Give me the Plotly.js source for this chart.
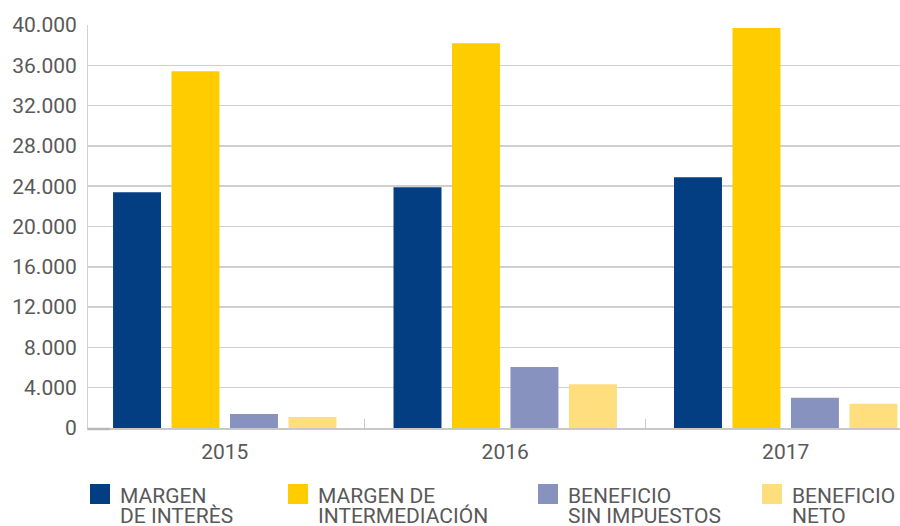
<!DOCTYPE html>
<html>
<head>
<meta charset="utf-8">
<script src="https://cdn.plot.ly/plotly-3.0.1.min.js"></script>
<style>
  html, body { margin: 0; padding: 0; background: #ffffff; }
  #chart { width: 900px; height: 526px; }
</style>
</head>
<body>
<div id="chart"></div>
<script>
// ---- Data ----
var years = ["2015", "2016", "2017"];
var seriesNames = ["MARGEN<br>DE INTERÈS", "MARGEN DE<br>INTERMEDIACIÓN", "BENEFICIO<br>SIN IMPUESTOS", "BENEFICIO<br>NETO"];
var margenInteres = [23400, 23900, 24900];
var margenIntermediacion = [35400, 38200, 39700];
var beneficioSinImpuestos = [1400, 6050, 3000];
var beneficioNeto = [1100, 4350, 2400];
var yTickVals = [0, 4000, 8000, 12000, 16000, 20000, 24000, 28000, 32000, 36000, 40000];

// ---- Styling ----
var colors = ["#043E82", "#FFCC00", "#8892BF", "#FFDE7E"];
var allValues = [margenInteres, margenIntermediacion, beneficioSinImpuestos, beneficioNeto];
var textColor = "#595959";
var fontFamily = "Roboto, 'Open Sans', sans-serif";

var traces = allValues.map(function (vals, i) {
  return {
    type: "bar",
    name: seriesNames[i].replace("<br>", " "),
    x: years,
    y: vals,
    marker: { color: colors[i], line: { width: 0 } },
    hoverinfo: "skip",
    showlegend: false
  };
});

// plot area geometry (pixels) for the hand-built legend
var W = 900, H = 526, mL = 88, mR = 0, mT = 25, mB = 98;
var pw = W - mL - mR, ph = H - mT - mB;
function px(x) { return (x - mL) / pw; }
function py(y) { return (H - mB - y) / ph; }

var legendX = [90, 288, 538, 762];
var shapes = [
  // short darker stub on the baseline at the lower-left corner
  { type: "line", xref: "paper", yref: "paper",
    x0: px(88), x1: px(110), y0: py(429), y1: py(429),
    line: { color: "#b8b8b8", width: 2.5 } }
];
var annotations = [];
legendX.forEach(function (x0, i) {
  shapes.push({
    type: "rect", xref: "paper", yref: "paper",
    x0: px(x0), x1: px(x0 + 20), y0: py(504), y1: py(484),
    fillcolor: colors[i], line: { width: 0 }
  });
  var lines = seriesNames[i].split("<br>");
  lines.forEach(function (t, j) {
    annotations.push({
      xref: "paper", yref: "paper",
      x: px(x0 + 28), y: py(495.5 + j * 20.5),
      xanchor: "left", yanchor: "middle",
      text: t, showarrow: false,
      font: { family: fontFamily, size: 21, color: textColor }
    });
  });
});

var layout = {
  width: W, height: H,
  margin: { l: mL, r: mR, t: mT, b: mB, pad: 0 },
  paper_bgcolor: "#ffffff",
  plot_bgcolor: "#ffffff",
  separators: ",.",
  font: { family: fontFamily, size: 21, color: textColor },
  barmode: "group",
  bargap: 0.166,
  bargroupgap: 0.18,
  showlegend: false,
  xaxis: {
    type: "category",
    range: [-0.4875, 2.4075],
    showline: true, linecolor: "#c8c8c8", linewidth: 1.5,
    showgrid: false, zeroline: false,
    tickson: "boundaries", ticks: "inside", ticklen: 9, tickwidth: 1, tickcolor: "#c8c8c8",
    tickfont: { family: fontFamily, size: 21, color: textColor },
    ticklabelstandoff: 4,
    fixedrange: true
  },
  yaxis: {
    range: [0, 40000],
    tickvals: yTickVals,
    tickformat: ",d",
    showline: true, linecolor: "#d0d0d0", linewidth: 1,
    showgrid: true, gridcolor: "#d0d0d0", gridwidth: 1.5,
    zeroline: false,
    ticks: "",
    tickfont: { family: fontFamily, size: 21, color: textColor },
    ticklabelstandoff: 6,
    fixedrange: true
  },
  shapes: shapes,
  annotations: annotations
};

Plotly.newPlot("chart", traces, layout, { displayModeBar: false, staticPlot: true });
</script>
</body>
</html>
